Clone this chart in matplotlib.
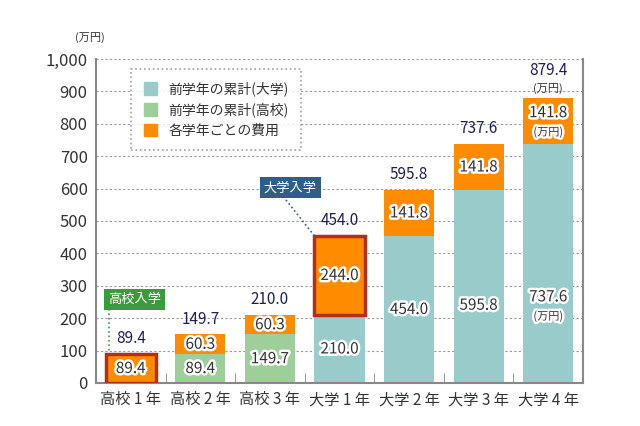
import numpy as np
import matplotlib.pyplot as plt
import matplotlib.patheffects as pe
from matplotlib.patches import Patch

plt.rcParams['font.family'] = ['Noto Sans CJK JP', 'DejaVu Sans']

categories = ["高校 1 年", "高校 2 年", "高校 3 年", "大学 1 年", "大学 2 年", "大学 3 年", "大学 4 年"]
prev_hs = [0, 89.4, 149.7, 0, 0, 0, 0]
prev_univ = [0, 0, 0, 210.0, 454.0, 595.8, 737.6]
cost = [89.4, 60.3, 60.3, 244.0, 141.8, 141.8, 141.8]
total = [89.4, 149.7, 210.0, 454.0, 595.8, 737.6, 879.4]
yticks = [0, 100, 200, 300, 400, 500, 600, 700, 800, 900, 1000]

c_univ = "#99CBCB"
c_hs = "#9ECF9B"
c_cost = "#FF8C00"
c_edge = "#B0301C"
txt = "#333333"
navy = "#1E2050"

fig = plt.figure(figsize=(6.4, 4.26), dpi=100)
ax = fig.add_axes([0.15, 0.101, 0.761, 0.7605])

x = np.arange(len(categories))
w = 0.72
base = np.array(prev_hs) + np.array(prev_univ)

ax.bar(x, prev_univ, w, color=c_univ, zorder=2)
ax.bar(x, prev_hs, w, color=c_hs, zorder=2)
highlight = [0, 3]
edges = [c_edge if i in highlight else "none" for i in x]
lws = [2.5 if i in highlight else 0 for i in x]
ax.bar(x, cost, w, bottom=base, color=c_cost, edgecolor=edges, linewidth=lws, zorder=3)

halo = [pe.withStroke(linewidth=3.5, foreground="white")]
last = len(x) - 1


def seg_label(i, y, value):
    if i == last:
        ax.annotate(f"{value:.1f}", (i, y), xytext=(0, 6), textcoords="offset points",
                    ha="center", va="center", fontsize=11, color=txt, path_effects=halo, zorder=5)
        ax.annotate("(万円)", (i, y), xytext=(0, -8), textcoords="offset points",
                    ha="center", va="center", fontsize=8, color=txt, path_effects=halo, zorder=5)
    else:
        ax.text(i, y, f"{value:.1f}", ha="center", va="center", fontsize=11,
                color=txt, path_effects=halo, zorder=5)


for i in x:
    if base[i] > 0:
        seg_label(i, min(base[i] / 2, 240), base[i])
    seg_label(i, base[i] + cost[i] / 2, cost[i])
    off = 14 if i == last else 5
    ax.annotate(f"{total[i]:.1f}", (i, total[i]), xytext=(0, off), textcoords="offset points",
                ha="center", va="bottom", fontsize=11, color=navy, zorder=5)
    if i == last:
        ax.annotate("(万円)", (i, total[i]), xytext=(0, 3), textcoords="offset points",
                    ha="center", va="bottom", fontsize=8, color=txt, zorder=5)

# annotations for school entry
ax.plot([-0.31, -0.31], [228, 100], ls=":", color="#3A9A3C", lw=1.2, zorder=4)
ax.text(0.05, 259, "高校入学", ha="center", va="center", fontsize=9.5, color="white", zorder=6,
        bbox=dict(boxstyle="square,pad=0.3", fc="#3A9A3C", ec="none"))
ax.plot([2.23, 2.64], [565, 454], ls=":", color="#2E5F8A", lw=1.2, zorder=4)
ax.text(2.29, 602, "大学入学", ha="center", va="center", fontsize=9.5, color="white", zorder=6,
        bbox=dict(boxstyle="square,pad=0.3", fc="#2E5F8A", ec="none"))

ax.set_xlim(-0.5, len(x) - 0.5)
ax.set_ylim(0, 1000)
ax.set_yticks(yticks)
ax.set_yticklabels([f"{v:,}" for v in yticks], fontsize=12, color=txt)
ax.tick_params(axis="y", length=0, pad=6)
ax.set_xticks(x)
ax.set_xticklabels(categories, fontsize=11, color=txt)
ax.set_xticks(np.arange(0.5, len(x) - 1, 1), minor=True)
ax.tick_params(axis="x", which="major", length=0, pad=6)
ax.tick_params(axis="x", which="minor", direction="in", length=7, color="#888888")

ax.yaxis.grid(True, ls=(0, (2, 2)), color="#999999", lw=0.8)
ax.set_axisbelow(True)
for s in ["left", "bottom", "right"]:
    ax.spines[s].set_color("#888888")
    ax.spines[s].set_linewidth(1.5)
ax.spines["top"].set_visible(False)

fig.text(0.141, 0.905, "(万円)", fontsize=8, color=txt, ha="center")

handles = [Patch(color=c_univ, label="前学年の累計(大学)"),
           Patch(color=c_hs, label="前学年の累計(高校)"),
           Patch(color=c_cost, label="各学年ごとの費用")]
leg = ax.legend(handles=handles, loc="upper left", bbox_to_anchor=(0.072, 0.969), fontsize=10,
                frameon=True, fancybox=False, handlelength=1.0, handleheight=1.0,
                borderpad=0.9, labelspacing=0.45, handletextpad=0.8, borderaxespad=0)
leg.get_frame().set_edgecolor("#888888")
leg.get_frame().set_linestyle(":")
leg.get_frame().set_linewidth(1.2)
for t in leg.get_texts():
    t.set_color(txt)
leg.set_zorder(7)

fig.savefig("out.png", dpi=100)
